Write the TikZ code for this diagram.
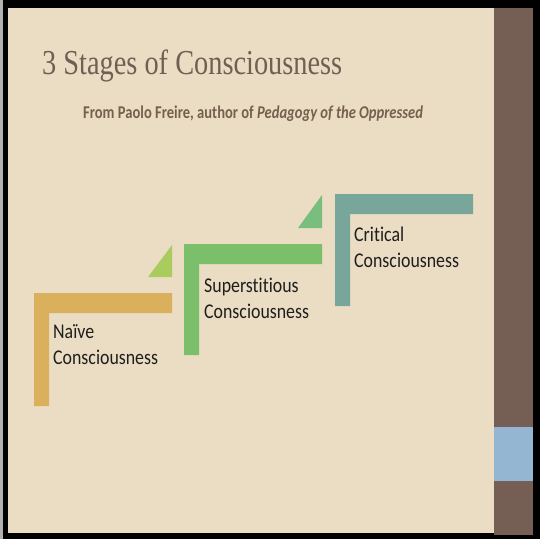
\documentclass[tikz,border=0pt]{standalone}
\usepackage{fontspec}
\newfontfamily\titlefont[FakeStretch=0.81]{Liberation Serif}
\newfontfamily\subfont[FakeStretch=0.81,Ligatures=NoCommon]{Carlito}
\newfontfamily\labelfont[FakeStretch=0.85,Ligatures=NoCommon]{Carlito}
\definecolor{bgbeige}{HTML}{EBDDC3}
\definecolor{stripbrown}{HTML}{755E53}
\definecolor{stripblue}{HTML}{94B6D2}
\definecolor{naivecol}{HTML}{DAB05C}
\definecolor{tri1col}{HTML}{AACC5E}
\definecolor{supercol}{HTML}{7CBF6A}
\definecolor{tri2col}{HTML}{79BE7E}
\definecolor{critcol}{HTML}{78A69A}
\definecolor{titlecol}{HTML}{705F55}
\definecolor{subcol}{HTML}{75604F}
\definecolor{labelcol}{HTML}{1E1E1E}
\tikzset{
  stagelabel/.style={anchor=base west, inner sep=0pt, align=left, text=labelcol,
    font=\labelfont\fontsize{21}{25.5}\selectfont},
}
\begin{document}
\begin{tikzpicture}[x=1pt,y=-1pt]
\useasboundingbox (0,0) rectangle (540,539);
% frame
\fill[black] (0,0) rectangle (540,539);
\fill[black!30] (0,0) rectangle (3,539);
\fill[bgbeige] (8,8) rectangle (494,533);
\fill[stripbrown] (494,8) rectangle (533,535);
\fill[stripblue] (494,427) rectangle (533,481);
% title
\node[anchor=base west, inner sep=0pt, text=titlecol,
  font=\titlefont\fontsize{35}{40}\selectfont] (title) at (42,74) {3 Stages of Consciousness};
\node[anchor=base west, inner sep=0pt, text=subcol,
  font=\subfont\bfseries\fontsize{18}{22}\selectfont] (subtitle) at (83,118)
  {From Paolo Freire, author of \textit{Pedagogy of the Oppressed}};
% steps
\fill[naivecol] (34,293) -- (172,293) -- (172,313) -- (49,313) -- (49,406) -- (34,406) -- cycle;
\fill[tri1col] (148,277) -- (172,277) -- (172,245) -- cycle;
\fill[supercol] (184,244) -- (322,244) -- (322,264) -- (199,264) -- (199,355) -- (184,355) -- cycle;
\fill[tri2col] (298,228) -- (322,228) -- (322,195) -- cycle;
\fill[critcol] (335,194) -- (473,194) -- (473,214) -- (350,214) -- (350,306) -- (335,306) -- cycle;
% labels (anchor = baseline of the last line)
\node[stagelabel] (naive) at (53,364) {Naïve\\Consciousness};
\node[stagelabel] (super) at (204,318) {Superstitious\\Consciousness};
\node[stagelabel] (crit) at (354,267) {Critical\\Consciousness};
\end{tikzpicture}
\end{document}
